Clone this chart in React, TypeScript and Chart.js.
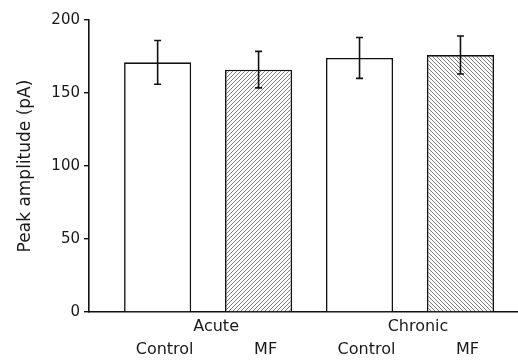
import React, { useEffect, useRef } from "react";
import { Chart, registerables } from "chart.js";

Chart.register(...registerables);

const groups = ["Acute", "Chronic"];
const conditions = ["Control", "MF", "Control", "MF"];
const groupOf = [0, 0, 1, 1];
const means = [171, 166, 174, 176];
const errors = [15, 12.5, 14, 13];
const yTicks = [0, 50, 100, 150, 200];

const FONT = "'DejaVu Sans', 'Liberation Sans', Arial, sans-serif";

function makeHatch(dir: "up" | "down"): CanvasPattern | string {
  const c = document.createElement("canvas");
  const s = 4;
  c.width = s;
  c.height = s;
  const ctx = c.getContext("2d");
  if (!ctx) return "#ccc";
  ctx.fillStyle = "#ffffff";
  ctx.fillRect(0, 0, s, s);
  ctx.strokeStyle = "#7a7a7a";
  ctx.lineWidth = 1;
  ctx.beginPath();
  if (dir === "up") {
    ctx.moveTo(-1, s + 1);
    ctx.lineTo(s + 1, -1);
    ctx.moveTo(-1, 1);
    ctx.lineTo(1, -1);
    ctx.moveTo(s - 1, s + 1);
    ctx.lineTo(s + 1, s - 1);
  } else {
    ctx.moveTo(-1, -1);
    ctx.lineTo(s + 1, s + 1);
    ctx.moveTo(s - 1, -1);
    ctx.lineTo(s + 1, 1);
    ctx.moveTo(-1, s - 1);
    ctx.lineTo(1, s + 1);
  }
  ctx.stroke();
  const p = ctx.createPattern(c, "repeat");
  return p || "#ccc";
}

export default function App() {
  const ref = useRef<HTMLCanvasElement>(null);

  useEffect(() => {
    if (!ref.current) return;
    const positions = means.map((_, i) => i + 1);
    const hatchUp = makeHatch("up");
    const hatchDown = makeHatch("down");
    const fills = ["#ffffff", hatchUp, "#ffffff", hatchDown];

    const errorPlugin = {
      id: "errbars",
      afterDatasetsDraw(chart: any) {
        const { ctx, scales } = chart;
        const xs = scales.x;
        const ys = scales.y;
        ctx.save();
        ctx.strokeStyle = "#111";
        ctx.lineWidth = 1.6;
        means.forEach((m, i) => {
          const x = xs.getPixelForValue(positions[i]);
          const yt = ys.getPixelForValue(m + errors[i]);
          const yb = ys.getPixelForValue(m - errors[i]);
          ctx.beginPath();
          ctx.moveTo(x, yt);
          ctx.lineTo(x, yb);
          ctx.moveTo(x - 3.5, yt);
          ctx.lineTo(x + 3.5, yt);
          ctx.moveTo(x - 3.5, yb);
          ctx.lineTo(x + 3.5, yb);
          ctx.stroke();
        });
        ctx.restore();
      },
    };

    const labelPlugin = {
      id: "xlabels",
      afterDraw(chart: any) {
        const { ctx, scales, chartArea } = chart;
        const xs = scales.x;
        ctx.save();
        ctx.fillStyle = "#1a1a1a";
        ctx.font = `16px ${FONT}`;
        ctx.textAlign = "center";
        ctx.textBaseline = "middle";
        groups.forEach((g, gi) => {
          const idx = positions.filter((_, i) => groupOf[i] === gi);
          const mid = idx.reduce((a, b) => a + b, 0) / idx.length;
          ctx.fillText(g, xs.getPixelForValue(mid) + 8, chartArea.bottom + 15);
        });
        conditions.forEach((c, i) => {
          ctx.fillText(c, xs.getPixelForValue(positions[i]) + 7, chartArea.bottom + 38);
        });
        ctx.restore();
      },
    };

    const chart = new Chart(ref.current, {
      type: "bar",
      data: {
        datasets: [
          {
            data: positions.map((p, i) => ({ x: p, y: means[i] })) as any,
            backgroundColor: fills as any,
            borderColor: "#111",
            borderWidth: 1.6,
            borderSkipped: "start",
            barPercentage: 0.665,
            categoryPercentage: 1,
          },
        ],
      },
      options: {
        responsive: false,
        animation: false,
        layout: { padding: { top: 20, right: 1, left: 0, bottom: 0 } },
        plugins: { legend: { display: false }, tooltip: { enabled: false } },
        scales: {
          x: {
            type: "linear",
            min: 0.32,
            max: 4.56,
            offset: false,
            afterBuildTicks: (s: any) => {
              s.ticks = positions.map((v) => ({ value: v }));
            },
            grid: { display: false, drawTicks: false },
            border: { display: true, color: "#111", width: 1.6 },
            ticks: { display: false },
            afterFit: (s: any) => {
              s.height = 49;
            },
          },
          y: {
            min: 0,
            max: 200,
            afterBuildTicks: (s: any) => {
              s.ticks = yTicks.map((v) => ({ value: v }));
            },
            grid: { drawOnChartArea: false, drawTicks: true, tickLength: 5, color: "#111", lineWidth: 1.4 },
            border: { display: true, color: "#111", width: 1.6 },
            ticks: { color: "#1a1a1a", font: { family: FONT, size: 15 }, padding: 4 },
            title: {
              display: true,
              text: "Peak amplitude (pA)",
              color: "#1a1a1a",
              font: { family: FONT, size: 17 },
              padding: { top: 15, bottom: 0 },
            },
            afterFit: (s: any) => {
              s.width = 89;
            },
          },
        },
      },
      plugins: [errorPlugin, labelPlugin],
    });
    return () => chart.destroy();
  }, []);

  return (
    <div style={{ position: "fixed", left: 0, top: 0, width: 518, height: 361, background: "#fff" }}>
      <canvas ref={ref} width={518} height={361} />
    </div>
  );
}
